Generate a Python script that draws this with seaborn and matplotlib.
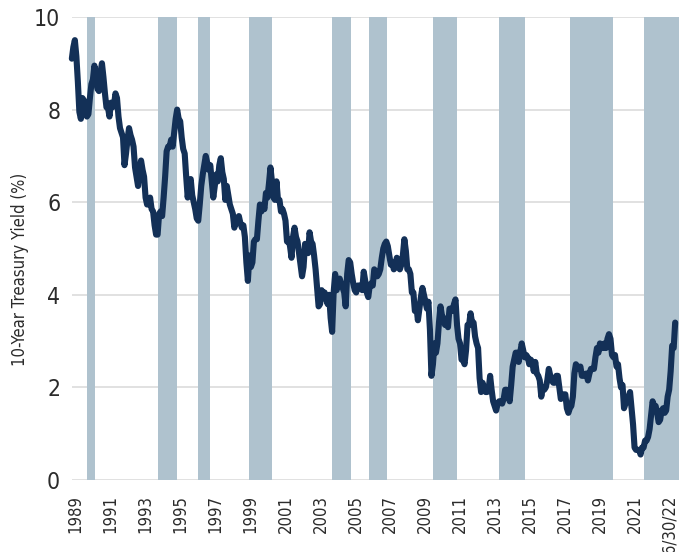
import numpy as np
import pandas as pd
import matplotlib
matplotlib.use("Agg")
import matplotlib.pyplot as plt
import seaborn as sns

# ---- data: monthly 10-year Treasury yield (%), Jan 1989 - Jun 2022 ----
years = list(range(1989, 2023))
yield_by_year = {
    1989: [9.10, 9.35, 9.50, 9.15, 8.60, 7.95, 7.80, 8.25, 8.20, 7.95, 7.85, 7.90],
    1990: [8.25, 8.55, 8.65, 8.95, 8.70, 8.45, 8.40, 8.80, 9.00, 8.70, 8.35, 8.05],
    1991: [8.05, 7.85, 8.15, 8.05, 8.10, 8.35, 8.25, 7.85, 7.60, 7.50, 7.40, 6.80],
    1992: [7.05, 7.35, 7.60, 7.45, 7.35, 7.20, 6.75, 6.55, 6.35, 6.70, 6.90, 6.70],
    1993: [6.55, 6.10, 5.95, 5.95, 6.10, 5.85, 5.80, 5.50, 5.30, 5.30, 5.75, 5.80],
    1994: [5.70, 6.10, 6.55, 7.10, 7.20, 7.20, 7.35, 7.20, 7.50, 7.80, 8.00, 7.80],
    1995: [7.75, 7.40, 7.15, 7.05, 6.55, 6.10, 6.40, 6.50, 6.15, 6.00, 5.85, 5.65],
    1996: [5.60, 5.95, 6.35, 6.60, 6.80, 7.00, 6.85, 6.70, 6.80, 6.45, 6.10, 6.35],
    1997: [6.60, 6.45, 6.80, 6.95, 6.65, 6.50, 6.05, 6.35, 6.15, 5.95, 5.85, 5.75],
    1998: [5.45, 5.60, 5.65, 5.70, 5.55, 5.45, 5.50, 5.25, 4.70, 4.30, 4.85, 4.60],
    1999: [4.70, 5.15, 5.20, 5.20, 5.60, 5.95, 5.80, 5.95, 5.85, 6.20, 6.10, 6.40],
    2000: [6.75, 6.45, 6.10, 6.05, 6.45, 6.05, 6.05, 5.80, 5.85, 5.75, 5.60, 5.15],
    2001: [5.20, 5.05, 4.80, 5.25, 5.45, 5.25, 5.15, 4.90, 4.65, 4.40, 4.60, 5.10],
    2002: [5.05, 4.90, 5.35, 5.15, 5.10, 4.85, 4.55, 4.15, 3.75, 3.80, 4.10, 4.00],
    2003: [4.05, 3.90, 3.80, 4.00, 3.50, 3.20, 4.05, 4.45, 4.10, 4.30, 4.35, 4.25],
    2004: [4.15, 4.05, 3.75, 4.45, 4.75, 4.70, 4.45, 4.25, 4.10, 4.05, 4.20, 4.20],
    2005: [4.20, 4.10, 4.50, 4.30, 4.05, 3.95, 4.20, 4.25, 4.20, 4.55, 4.50, 4.40],
    2006: [4.45, 4.55, 4.80, 5.00, 5.10, 5.15, 5.05, 4.85, 4.65, 4.70, 4.55, 4.60],
    2007: [4.80, 4.60, 4.55, 4.65, 4.85, 5.20, 4.95, 4.55, 4.55, 4.45, 4.05, 4.05],
    2008: [3.65, 3.75, 3.45, 3.70, 3.95, 4.15, 4.00, 3.85, 3.70, 3.85, 3.25, 2.25],
    2009: [2.50, 2.95, 2.75, 2.95, 3.40, 3.75, 3.55, 3.50, 3.35, 3.40, 3.30, 3.70],
    2010: [3.70, 3.65, 3.80, 3.90, 3.35, 3.05, 2.95, 2.60, 2.60, 2.50, 2.80, 3.35],
    2011: [3.35, 3.60, 3.40, 3.40, 3.10, 2.95, 2.85, 2.20, 1.90, 2.10, 2.00, 1.90],
    2012: [1.90, 1.95, 2.25, 1.95, 1.70, 1.60, 1.50, 1.65, 1.70, 1.70, 1.65, 1.75],
    2013: [1.95, 1.95, 1.90, 1.70, 2.05, 2.45, 2.60, 2.75, 2.75, 2.55, 2.75, 2.95],
    2014: [2.80, 2.65, 2.70, 2.65, 2.50, 2.60, 2.55, 2.35, 2.55, 2.30, 2.25, 2.15],
    2015: [1.80, 2.00, 1.95, 2.00, 2.15, 2.40, 2.25, 2.15, 2.10, 2.10, 2.25, 2.25],
    2016: [2.00, 1.75, 1.85, 1.85, 1.85, 1.55, 1.45, 1.55, 1.60, 1.80, 2.30, 2.50],
    2017: [2.45, 2.40, 2.45, 2.25, 2.25, 2.25, 2.30, 2.15, 2.30, 2.40, 2.40, 2.40],
    2018: [2.65, 2.85, 2.75, 2.95, 2.90, 2.85, 2.95, 2.85, 3.05, 3.15, 3.05, 2.70],
    2019: [2.65, 2.70, 2.45, 2.50, 2.20, 2.00, 2.05, 1.55, 1.65, 1.75, 1.80, 1.90],
    2020: [1.55, 1.20, 0.70, 0.65, 0.65, 0.65, 0.55, 0.70, 0.70, 0.85, 0.85, 0.93],
    2021: [1.10, 1.40, 1.70, 1.60, 1.60, 1.45, 1.25, 1.30, 1.50, 1.55, 1.45, 1.50],
    2022: [1.80, 1.95, 2.35, 2.90, 2.85, 3.40],
}

# shaded periods (decimal years): start / end
shade_start = [1989.87, 1993.80, 1996.03, 1998.84, 2003.47, 2005.50, 2009.06, 2012.68, 2016.61, 2020.73]
shade_end   = [1990.31, 1994.87, 1996.70, 2000.11, 2004.50, 2006.50, 2010.36, 2014.14, 2019.01, 2023.00]

tick_labels = ["1989", "1991", "1993", "1995", "1997", "1999", "2001", "2003", "2005",
               "2007", "2009", "2011", "2013", "2015", "2017", "2019", "2021", "6/30/22"]
y_ticks = [0, 2, 4, 6, 8, 10]

# ---- build table ----
rows = []
for yr in years:
    for m, v in enumerate(yield_by_year[yr]):
        rows.append({"t": yr + (m + 0.5) / 12.0, "yield": v})
df = pd.DataFrame(rows)

# ---- style ----
sns.set_theme(style="white")
plt.rcParams["font.family"] = ["DejaVu Sans"]
plt.rcParams["font.stretch"] = "condensed"

LINE = "#133057"
SHADE = "#AFC2CE"
GRID = "#D9D9D9"
TEXT = "#2B2B2B"

fig = plt.figure(figsize=(6.79, 5.52), dpi=100)
ax = fig.add_axes([72 / 679, 1 - 480 / 552, 607 / 679, 463 / 552])

for s, e in zip(shade_start, shade_end):
    ax.axvspan(s, e, color=SHADE, lw=0, zorder=1)

sns.lineplot(data=df, x="t", y="yield", ax=ax, color=LINE, linewidth=4.4,
             zorder=3, clip_on=False)
for ln in ax.lines:
    ln.set_solid_joinstyle("round")
    ln.set_solid_capstyle("round")

ax.set_xlim(1989.05, 2022.67)
ax.set_ylim(0, 10)
ax.set_yticks(y_ticks)
ax.set_yticklabels([str(v) for v in y_ticks], fontsize=16.5, color=TEXT,
                   fontstretch="condensed")

tick_pos = np.linspace(1989.26, 2022.17, len(tick_labels))
ax.set_xticks(tick_pos)
ax.set_xticklabels(tick_labels, rotation=90, fontsize=12, color=TEXT,
                   va="top", ha="center", fontstretch="condensed")

ax.tick_params(axis="y", length=0, pad=8.5)
ax.tick_params(axis="x", length=0, pad=11)

ax.grid(axis="y", color=GRID, linewidth=1.1, zorder=0)
ax.grid(axis="x", visible=False)
ax.set_axisbelow(True)
for sp in ax.spines.values():
    sp.set_visible(False)

ax.set_xlabel("")
ax.set_ylabel("10-Year Treasury Yield (%)", fontsize=12, color=TEXT,
              fontstretch="condensed")
ax.yaxis.set_label_coords(-0.071, 0.455)

fig.savefig("out.png", dpi=100)
